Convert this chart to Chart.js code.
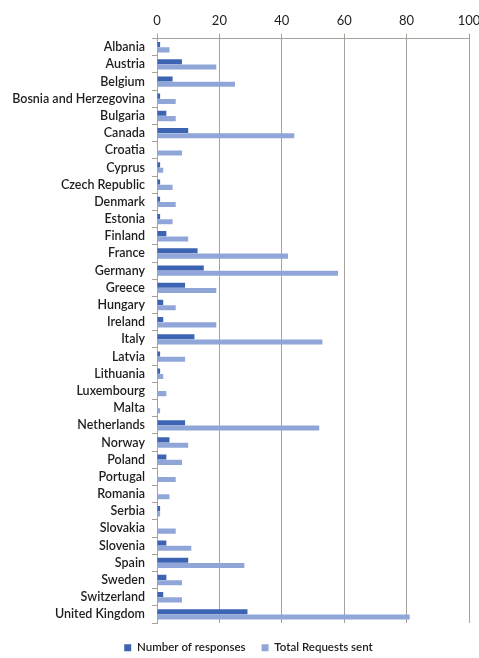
<!DOCTYPE html>
<html>
<head>
<meta charset="utf-8">
<script src="https://cdn.jsdelivr.net/npm/chart.js@4/dist/chart.umd.min.js"></script>
<style>
  html, body { margin: 0; padding: 0; background: #fff; }
  #wrap { width: 479px; height: 658px; }
</style>
</head>
<body>
<div id="wrap"><canvas id="c"></canvas></div>
<script>
const countries = [
  "Albania", "Austria", "Belgium", "Bosnia and Herzegovina", "Bulgaria", "Canada",
  "Croatia", "Cyprus", "Czech Republic", "Denmark", "Estonia", "Finland", "France",
  "Germany", "Greece", "Hungary", "Ireland", "Italy", "Latvia", "Lithuania",
  "Luxembourg", "Malta", "Netherlands", "Norway", "Poland", "Portugal", "Romania",
  "Serbia", "Slovakia", "Slovenia", "Spain", "Sweden", "Switzerland", "United Kingdom"
];
const responses = [
  1, 8, 5, 1, 3, 10,
  0, 1, 1, 1, 1, 3, 13,
  15, 9, 2, 2, 12, 1, 1,
  0, 0, 9, 4, 3, 0, 0,
  1, 0, 3, 10, 3, 2, 29
];
const requestsSent = [
  4, 19, 25, 6, 6, 44,
  8, 2, 5, 6, 5, 10, 42,
  58, 19, 6, 19, 53, 9, 2,
  3, 1, 52, 10, 8, 6, 4,
  1, 6, 11, 28, 8, 8, 81
];
const xTicks = [0, 20, 40, 60, 80, 100];

const textColor = "#1e1e1e";
const gridColor = "#a8a29c";

// Legend sits a little right of the canvas centre, with a fixed band height.
const legendPlacement = {
  id: "legendPlacement",
  afterInit(chart) {
    const lg = chart.legend;
    const fit = lg.fit.bind(lg);
    lg.fit = () => { fit(); lg.height = 35; };
  },
  afterLayout(chart) {
    const lg = chart.legend;
    lg.left += 9;
    lg.right += 9;
    lg.top += 3;
    lg.bottom += 3;
  }
};

new Chart(document.getElementById("c"), {
  type: "bar",
  data: {
    labels: countries,
    datasets: [
      {
        label: "Number of responses",
        data: responses,
        backgroundColor: "#3d64b2",
        barPercentage: 0.95,
        categoryPercentage: 0.62
      },
      {
        label: "Total Requests sent",
        data: requestsSent,
        backgroundColor: "#90a6d8",
        barPercentage: 0.95,
        categoryPercentage: 0.62
      }
    ]
  },
  options: {
    indexAxis: "y",
    responsive: true,
    maintainAspectRatio: false,
    animation: false,
    layout: { padding: { top: 8, right: 0, bottom: 0, left: 0 } },
    scales: {
      x: {
        position: "top",
        min: 0,
        max: 100,
        afterBuildTicks: (scale) => { scale.ticks = xTicks.map(v => ({ value: v })); },
        afterFit: (scale) => { scale.paddingRight = 10; },
        ticks: {
          color: textColor,
          font: { family: "Lato", size: 13 },
          padding: 5
        },
        grid: {
          color: gridColor,
          lineWidth: 1,
          tickLength: 5
        },
        border: { color: gridColor }
      },
      y: {
        afterFit: (scale) => { scale.width = 157; },
        ticks: {
          color: textColor,
          font: { family: "Lato", size: 12.5, weight: "600" },
          padding: 7,
          autoSkip: false
        },
        grid: {
          drawOnChartArea: false,
          color: gridColor,
          tickLength: 5
        },
        border: { color: gridColor }
      }
    },
    plugins: {
      tooltip: { enabled: false },
      legend: {
        position: "bottom",
        labels: {
          color: textColor,
          font: { family: "Lato", size: 11.5, weight: "600" },
          boxWidth: 7,
          boxHeight: 7,
          padding: 16
        }
      }
    }
  },
  plugins: [legendPlacement]
});
</script>
</body>
</html>
